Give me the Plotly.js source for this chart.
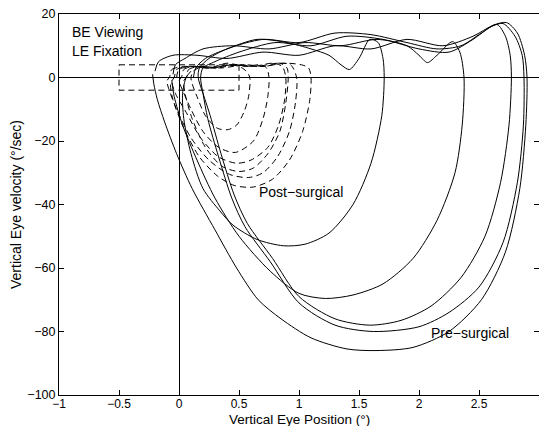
<!DOCTYPE html>
<html><head><meta charset="utf-8">
<script src="https://cdn.plot.ly/plotly-3.0.1.min.js"></script>
<style>html,body{margin:0;padding:0;background:#fff;}#chart{width:539px;height:426px;}</style>
</head><body><div id="chart"></div>
<script>
// Pre-surgical (solid) loops
const preA_x = [0.12,0.14,0.22,0.40,0.65,0.90,1.10,1.25,1.35,1.42,1.50,1.59,1.66,1.70,1.71,1.69,1.60,1.45,1.25,1.05,0.87,0.65,0.45,0.34,0.20,0.10,0.04,0.03,0.06,0.10];
const preA_y = [0,3,6,9,12,11,9,7,4,2.5,6,12,11,6,0,-12,-27,-40,-49,-52.5,-53,-51,-46.5,-42,-35,-24,-13,-5,0,2];
const preB_x = [-0.05,-0.03,0.05,0.20,0.45,0.75,1.05,1.35,1.65,1.90,2.00,2.07,2.15,2.28,2.34,2.375,2.36,2.30,2.15,1.95,1.70,1.45,1.22,1.00,0.76,0.50,0.30,0.15,0.03,-0.04,-0.06];
const preB_y = [1,4,6,9,10,9,11,10,12,10,7,4.7,7,11.3,8,0,-15,-30,-45,-57,-65,-68.5,-69.6,-68,-61,-50,-38,-26,-15,-6,-1];
const preC_x = [0.16,0.17,0.25,0.40,0.70,1.00,1.30,1.60,1.90,2.15,2.35,2.52,2.65,2.72,2.76,2.77,2.75,2.68,2.55,2.35,2.10,1.85,1.59,1.30,1.00,0.78,0.57,0.46,0.35,0.26,0.20,0.16];
const preC_y = [0,3,6,9,12,11,14,13.5,11,9,10,14,16.7,13,7,0,-15,-33,-50,-63,-72,-76.5,-78,-76,-69,-57,-46,-37,-24,-12,-5,0];
const preD_x = [0.18,0.20,0.30,0.50,0.80,1.10,1.40,1.70,2.00,2.25,2.45,2.60,2.70,2.80,2.86,2.875,2.87,2.82,2.70,2.50,2.25,2.00,1.62,1.30,1.00,0.76,0.55,0.44,0.33,0.24,0.20,0.18];
const preD_y = [0,3,5,8,11,10,13,12,9,8,12,16,17,13,7,0,-15,-33,-52,-66,-74,-78.5,-80,-78,-71,-58,-47,-38,-25,-13,-5,0];
const preE_x = [-0.20,-0.17,-0.05,0.15,0.40,0.70,1.00,1.30,1.60,1.90,2.20,2.45,2.62,2.73,2.82,2.88,2.90,2.89,2.84,2.72,2.52,2.25,1.95,1.65,1.40,1.10,0.85,0.66,0.48,0.30,0.11,-0.02,-0.12,-0.18,-0.21,-0.22];
const preE_y = [2,5,7,7,6,8,7,10,9,12,10,13,16.5,17.3,14,7,0,-15,-35,-55,-70,-80,-85,-86,-85.5,-82,-76,-70,-60,-48,-35,-24,-14,-7,-2,1];

// Post-surgical (dashed) loops
const post1_x = [0.10,0.12,0.20,0.30,0.40,0.50,0.56,0.59,0.58,0.54,0.48,0.41,0.32,0.22,0.15,0.11,0.10];
const post1_y = [0,2,3.5,3,4,3.5,2,0,-6,-11,-15,-16.4,-16,-12,-6,-2,0];
const post2_x = [0.02,0.04,0.12,0.25,0.40,0.55,0.68,0.73,0.75,0.74,0.70,0.62,0.47,0.33,0.20,0.10,0.03,0.00,0.02];
const post2_y = [0,2.5,3.5,3,4.5,3.5,4,3,0,-6,-13,-20,-23.6,-22,-17,-10,-4,-1,0];
const post3_x = [-0.04,-0.02,0.08,0.25,0.45,0.62,0.78,0.86,0.89,0.88,0.83,0.74,0.60,0.48,0.33,0.18,0.06,-0.03,-0.06,-0.04];
const post3_y = [0,2.5,3.5,3,4,3.5,4.5,3.5,0,-7,-15,-22,-26,-27,-25,-19,-11,-5,-1,0];
const post4_x = [0.06,0.08,0.18,0.35,0.55,0.72,0.84,0.90,0.91,0.89,0.84,0.74,0.62,0.50,0.36,0.22,0.11,0.05,0.04,0.06];
const post4_y = [0,2.5,3.5,3,4,3.5,4.5,3,0,-8,-17,-24,-28.5,-29.6,-28,-22,-13,-5,-1,0];
const post5_x = [-0.08,-0.06,0.05,0.25,0.45,0.65,0.82,0.93,0.98,0.97,0.92,0.82,0.70,0.58,0.42,0.25,0.10,-0.02,-0.09,-0.10,-0.08];
const post5_y = [0,2.5,3.5,3,4,3.5,4.5,4,0,-8,-17,-25,-30,-31.5,-30.5,-26,-19,-10,-3,-1,0];
const post6_x = [-0.02,0.00,0.12,0.30,0.50,0.70,0.88,1.02,1.08,1.10,1.09,1.03,0.92,0.78,0.62,0.46,0.32,0.17,0.04,-0.05,-0.07,-0.04];
const post6_y = [0,2.5,3.5,3,4,3.5,4.5,4,3,0,-7,-17,-26,-32,-34.5,-34,-31,-25,-16,-7,-2,0];

// Reference box
const box_x = [-0.5,0.5,0.5,-0.5,-0.5];
const box_y = [4,4,-4,-4,4];

const xTicks = [-1,-0.5,0,0.5,1,1.5,2,2.5,3];
const yTicks = [-100,-80,-60,-40,-20,0,20];

const solid = {color:'#000', width:1, shape:'spline', smoothing:0.8};
const dashed = {color:'#000', width:1, shape:'spline', smoothing:0.8, dash:'6px,4px'};
const pre = [[preA_x,preA_y],[preB_x,preB_y],[preC_x,preC_y],[preD_x,preD_y],[preE_x,preE_y]];
const post = [[post1_x,post1_y],[post2_x,post2_y],[post3_x,post3_y],[post4_x,post4_y],[post5_x,post5_y],[post6_x,post6_y]];
const traces = [];
pre.forEach(p => traces.push({x:p[0], y:p[1], mode:'lines', line:solid, hoverinfo:'skip'}));
post.forEach(p => traces.push({x:p[0], y:p[1], mode:'lines', line:dashed, hoverinfo:'skip'}));
traces.push({x:box_x, y:box_y, mode:'lines', line:{color:'#000', width:1, dash:'6px,4px'}, hoverinfo:'skip'});

const ff = 'Liberation Sans, Arial, sans-serif';
const font = {family:ff, size:14, color:'#000'};
const axisCommon = {showgrid:false, zeroline:true, zerolinecolor:'#000', zerolinewidth:1,
  showline:true, linecolor:'#000', linewidth:1, mirror:'ticks', ticks:'inside', ticklen:5,
  tickcolor:'#000'};
const layout = {
  width:539, height:426, showlegend:false,
  paper_bgcolor:'#fff', plot_bgcolor:'#fff', font:font,
  margin:{l:59, r:0, t:14, b:31},
  xaxis:Object.assign({}, axisCommon, {range:[-1,3], tickvals:xTicks,
    tickfont:{family:ff, size:12, color:'#000'}, ticklabelstandoff:-2}),
  yaxis:Object.assign({}, axisCommon, {range:[-100,20], tickvals:yTicks,
    tickfont:{family:ff, size:12.5, color:'#000'},
    title:{text:'Vertical Eye velocity (°/sec)', font:font, standoff:2}}),
  annotations:[
    {x:0.5, y:-0.0655, xref:'paper', yref:'paper', text:'Vertical Eye Position (°)', showarrow:false, xanchor:'center', yanchor:'middle', font:{family:ff, size:13.5, color:'#000'}},
    {x:-0.91, y:14.2, xref:'x', yref:'y', text:'BE Viewing', showarrow:false, xanchor:'left', font:font},
    {x:-0.91, y:8.2, xref:'x', yref:'y', text:'LE Fixation', showarrow:false, xanchor:'left', font:font},
    {x:0.65, y:-36.2, xref:'x', yref:'y', text:'Post\u2212surgical', showarrow:false, xanchor:'left', font:font},
    {x:2.08, y:-80.6, xref:'x', yref:'y', text:'Pre\u2212surgical', showarrow:false, xanchor:'left', font:font}
  ]
};
Plotly.newPlot('chart', traces, layout, {staticPlot:true, displayModeBar:false});
</script></body></html>
